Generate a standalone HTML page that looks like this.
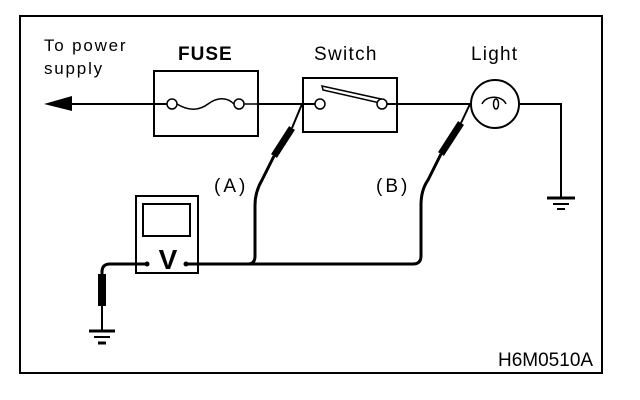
<!DOCTYPE html>
<html><head><style>
html,body{margin:0;padding:0;background:#fff;}
svg{display:block;}
text{font-family:"Liberation Sans",Arial,sans-serif;fill:#000;}
</style></head><body>
<svg width="640" height="400" viewBox="0 0 640 400" xmlns="http://www.w3.org/2000/svg">
<rect x="20" y="16" width="582" height="357" fill="none" stroke="#000" stroke-width="2"/>
<text x="44" y="51" font-size="17" letter-spacing="1.8">To power</text>
<text x="44" y="74" font-size="17" letter-spacing="1.8">supply</text>
<text x="178" y="60" font-size="19" font-weight="bold" letter-spacing="1">FUSE</text>
<text x="314" y="60" font-size="19" letter-spacing="1.3">Switch</text>
<text x="471" y="60" font-size="19" letter-spacing="1.2">Light</text>
<line x1="60" y1="104" x2="470" y2="104" stroke="#000" stroke-width="2"/>
<polygon points="44,104 72,96 72,111" fill="#000"/>
<rect x="154" y="71" width="104" height="65" fill="#fff" stroke="#000" stroke-width="2"/>
<line x1="154" y1="104" x2="167" y2="104" stroke="#000" stroke-width="2"/>
<line x1="244" y1="104" x2="258" y2="104" stroke="#000" stroke-width="1.5"/>
<path d="M177,104 C190,112 200,110 208,104 C216,98 226,96 234,104" fill="none" stroke="#000" stroke-width="1.5"/>
<circle cx="172" cy="104" r="5" fill="#fff" stroke="#000" stroke-width="1.5"/>
<circle cx="239" cy="104" r="5" fill="#fff" stroke="#000" stroke-width="1.5"/>
<rect x="303" y="78" width="94" height="54" fill="#fff" stroke="#000" stroke-width="2"/>
<line x1="303" y1="104" x2="315" y2="104" stroke="#000" stroke-width="2"/>
<line x1="387" y1="104" x2="397" y2="104" stroke="#000" stroke-width="2"/>
<polygon points="322,86 323,90 380,103 381,99" fill="#fff" stroke="#000" stroke-width="1.5"/>
<circle cx="320" cy="104" r="5" fill="#fff" stroke="#000" stroke-width="1.5"/>
<circle cx="382" cy="104" r="5" fill="#fff" stroke="#000" stroke-width="1.5"/>
<circle cx="495" cy="104" r="24" fill="#fff" stroke="#000" stroke-width="2"/>
<path d="M482,104 C486,95 502,95 506,104" fill="none" stroke="#000" stroke-width="1.5"/>
<ellipse cx="496" cy="104" rx="2.5" ry="5" fill="none" stroke="#000" stroke-width="1.5"/>
<polyline points="519,104 561,104 561,197" fill="none" stroke="#000" stroke-width="2"/>
<line x1="547" y1="198" x2="575" y2="198" stroke="#000" stroke-width="3"/>
<line x1="553" y1="204" x2="569" y2="204" stroke="#000" stroke-width="2"/>
<line x1="557" y1="209" x2="565" y2="209" stroke="#000" stroke-width="2"/>
<line x1="302" y1="104" x2="292" y2="128" stroke="#000" stroke-width="2"/>
<line x1="292" y1="128" x2="274" y2="156" stroke="#000" stroke-width="7"/>
<path d="M274,156 L262,180 Q255,192 255,205 L255,256 Q255,264 248,264" fill="none" stroke="#000" stroke-width="3"/>
<line x1="470" y1="104" x2="461" y2="123" stroke="#000" stroke-width="2"/>
<line x1="461" y1="123" x2="441" y2="154" stroke="#000" stroke-width="7"/>
<path d="M441,154 L428,180 Q421,190 421,205 L421,256 Q421,264 413,264 L186,264" fill="none" stroke="#000" stroke-width="3"/>
<text x="214" y="192" font-size="19" letter-spacing="3">(A)</text>
<text x="376" y="192" font-size="19" letter-spacing="3">(B)</text>
<rect x="136" y="196" width="62" height="77" fill="#fff" stroke="#000" stroke-width="2"/>
<rect x="143" y="204" width="47" height="32" fill="#fff" stroke="#000" stroke-width="2"/>
<text x="168" y="269" font-size="28" font-weight="bold" text-anchor="middle">V</text>
<circle cx="147" cy="264" r="2.5" fill="#000"/>
<circle cx="186" cy="264" r="2.5" fill="#000"/>
<line x1="186" y1="264" x2="250" y2="264" stroke="#000" stroke-width="3"/>
<path d="M147,264 L110,264 Q102,264 102,272 L102,300" fill="none" stroke="#000" stroke-width="3"/>
<line x1="102" y1="274" x2="102" y2="306" stroke="#000" stroke-width="8"/>
<line x1="102" y1="306" x2="102" y2="331" stroke="#000" stroke-width="2"/>
<line x1="89" y1="331" x2="115" y2="331" stroke="#000" stroke-width="3"/>
<line x1="94" y1="337" x2="110" y2="337" stroke="#000" stroke-width="2"/>
<line x1="98" y1="343" x2="106" y2="343" stroke="#000" stroke-width="3"/>
<text x="498" y="366" font-size="19">H6M0510A</text>
</svg>
</body></html>
